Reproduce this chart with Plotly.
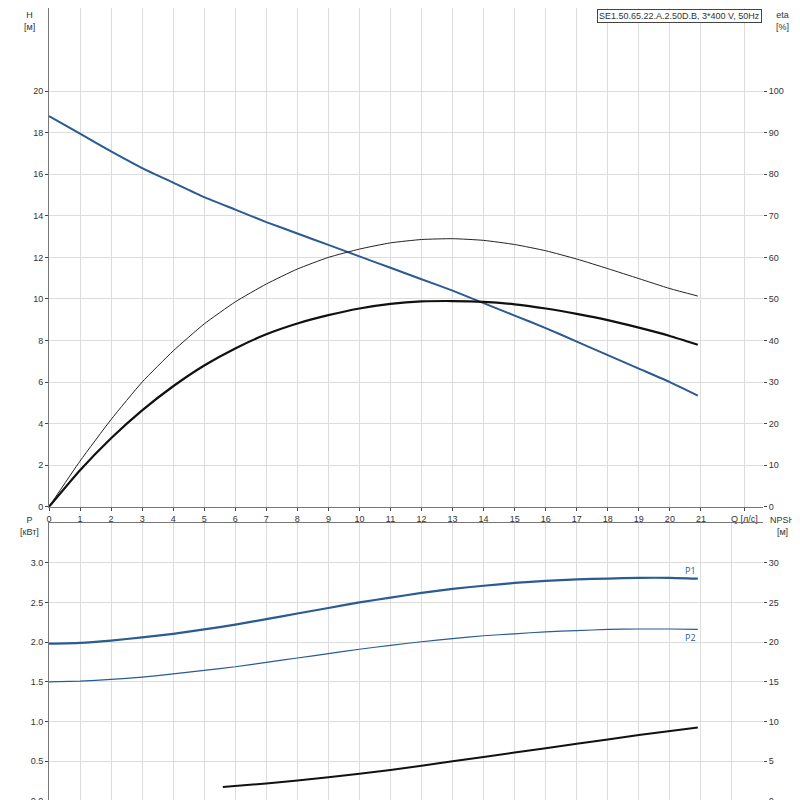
import plotly.graph_objects as go

Q = [0,1,2,3,4,5,6,7,8,9,10,11,12,13,14,15,16,17,18,19,20,20.9]
H = [18.8,17.95,17.1,16.3,15.6,14.9,14.3,13.7,13.15,12.6,12.05,11.5,10.95,10.4,9.8,9.2,8.6,7.95,7.3,6.65,6.0,5.35]
ETA1 = [0,11,21,30,37.5,44,49.3,53.6,57.2,60,62,63.5,64.3,64.5,64.1,63.1,61.6,59.6,57.3,54.9,52.5,50.7]
ETA2 = [0,8.8,16.5,23.2,29,34,38.1,41.5,44.1,46.1,47.7,48.8,49.4,49.5,49.3,48.7,47.7,46.4,44.9,43.1,41.1,39]
P1 = [1.98,1.99,2.02,2.06,2.105,2.16,2.22,2.29,2.36,2.43,2.5,2.56,2.62,2.67,2.71,2.745,2.77,2.79,2.80,2.81,2.81,2.80]
P2 = [1.5,1.51,1.53,1.56,1.6,1.645,1.69,1.745,1.8,1.855,1.91,1.96,2.005,2.045,2.08,2.105,2.13,2.145,2.16,2.165,2.165,2.16]
Q_NPSH = [5.6,7,9,11,13,15,17,19,20.9]
NPSH = [1.75,2.2,3.0,3.9,5.0,6.1,7.2,8.3,9.25]
TITLE = "SE1.50.65.22.A.2.50D.B, 3*400 V, 50Hz"

blue = "#2a5b93"
sm = 0.5
fig = go.Figure()
fig.add_trace(go.Scatter(x=Q, y=H, mode="lines", line=dict(color=blue, width=2, shape="spline", smoothing=sm), xaxis="x", yaxis="y"))
fig.add_trace(go.Scatter(x=Q, y=ETA1, mode="lines", line=dict(color="#222", width=1, shape="spline", smoothing=sm), xaxis="x", yaxis="y2"))
fig.add_trace(go.Scatter(x=Q, y=ETA2, mode="lines", line=dict(color="#111", width=2.2, shape="spline", smoothing=sm), xaxis="x", yaxis="y2"))
fig.add_trace(go.Scatter(x=Q, y=P1, mode="lines", line=dict(color=blue, width=2.2, shape="spline", smoothing=sm), xaxis="x2", yaxis="y3"))
fig.add_trace(go.Scatter(x=Q, y=P2, mode="lines", line=dict(color=blue, width=1.2, shape="spline", smoothing=sm), xaxis="x2", yaxis="y3"))
fig.add_trace(go.Scatter(x=Q_NPSH, y=NPSH, mode="lines", line=dict(color="#111", width=2, shape="spline", smoothing=sm), xaxis="x2", yaxis="y4"))

grid = "#dddddd"
fs = dict(family="Liberation Sans, Arial", size=9, color="#333")
ticks = list(range(22)) + [22.4]
ticktext = [str(i) for i in range(22)] + ["Q [л/с]"]
common = dict(range=[0, 23], showgrid=True, gridcolor=grid, zeroline=False, showline=True, linecolor="#777",
              mirror=True, tickfont=fs, automargin=False)
yc = dict(zeroline=False, ticks="outside", ticklen=3, tickfont=fs, automargin=False)
fig.update_layout(
    width=800, height=800, showlegend=False, plot_bgcolor="white", paper_bgcolor="white",
    margin=dict(l=41, r=45, t=0, b=7),
    xaxis=dict(**common, domain=[0, 1], anchor="y", tickvals=ticks, ticktext=ticktext, ticks="outside", ticklen=3),
    yaxis=dict(**yc, domain=[0.371, 1], range=[0, 24], tickvals=list(range(0, 21, 2)), showgrid=True, gridcolor=grid,
               showline=True, linecolor="#777"),
    yaxis2=dict(**yc, overlaying="y", side="right", range=[0, 120], tickvals=list(range(0, 101, 10)), showgrid=False, anchor="x"),
    xaxis2=dict(**common, domain=[0, 1], anchor="y3", tickvals=list(range(23)), showticklabels=False),
    yaxis3=dict(**yc, domain=[0, 0.3506], range=[0, 3.5], tickvals=[0, 0.5, 1, 1.5, 2, 2.5, 3], tickformat=".1f",
                showgrid=True, gridcolor=grid, showline=True, linecolor="#777"),
    yaxis4=dict(**yc, overlaying="y3", side="right", range=[0, 35], tickvals=list(range(0, 31, 5)), showgrid=False, anchor="x2"),
)
ann = [
    dict(text="H<br>[м]", x=-0.027, y=1.0, xanchor="center", yanchor="top"),
    dict(text="eta<br>[%]", x=1.028, y=1.0, xanchor="center", yanchor="top"),
    dict(text="P<br>[кВт]", x=-0.027, y=0.363, xanchor="center", yanchor="top"),
    dict(text="NPSH<br>[м]", x=1.028, y=0.363, xanchor="center", yanchor="top"),
    dict(text=TITLE, x=0.999, y=0.999, xanchor="right", yanchor="top", bordercolor="#444", borderwidth=1,
         bgcolor="white", borderpad=1),
]
for a in ann:
    fig.add_annotation(xref="paper", yref="paper", showarrow=False, font=fs, **a)
fig.add_annotation(x=20.9, y=P1[-1], xref="x2", yref="y3", text="P1", showarrow=False, xanchor="right", yanchor="bottom", font=dict(size=9, color=blue))
fig.add_annotation(x=20.9, y=P2[-1], xref="x2", yref="y3", text="P2", showarrow=False, xanchor="right", yanchor="top", font=dict(size=9, color=blue))
fig.write_html("out.html")
